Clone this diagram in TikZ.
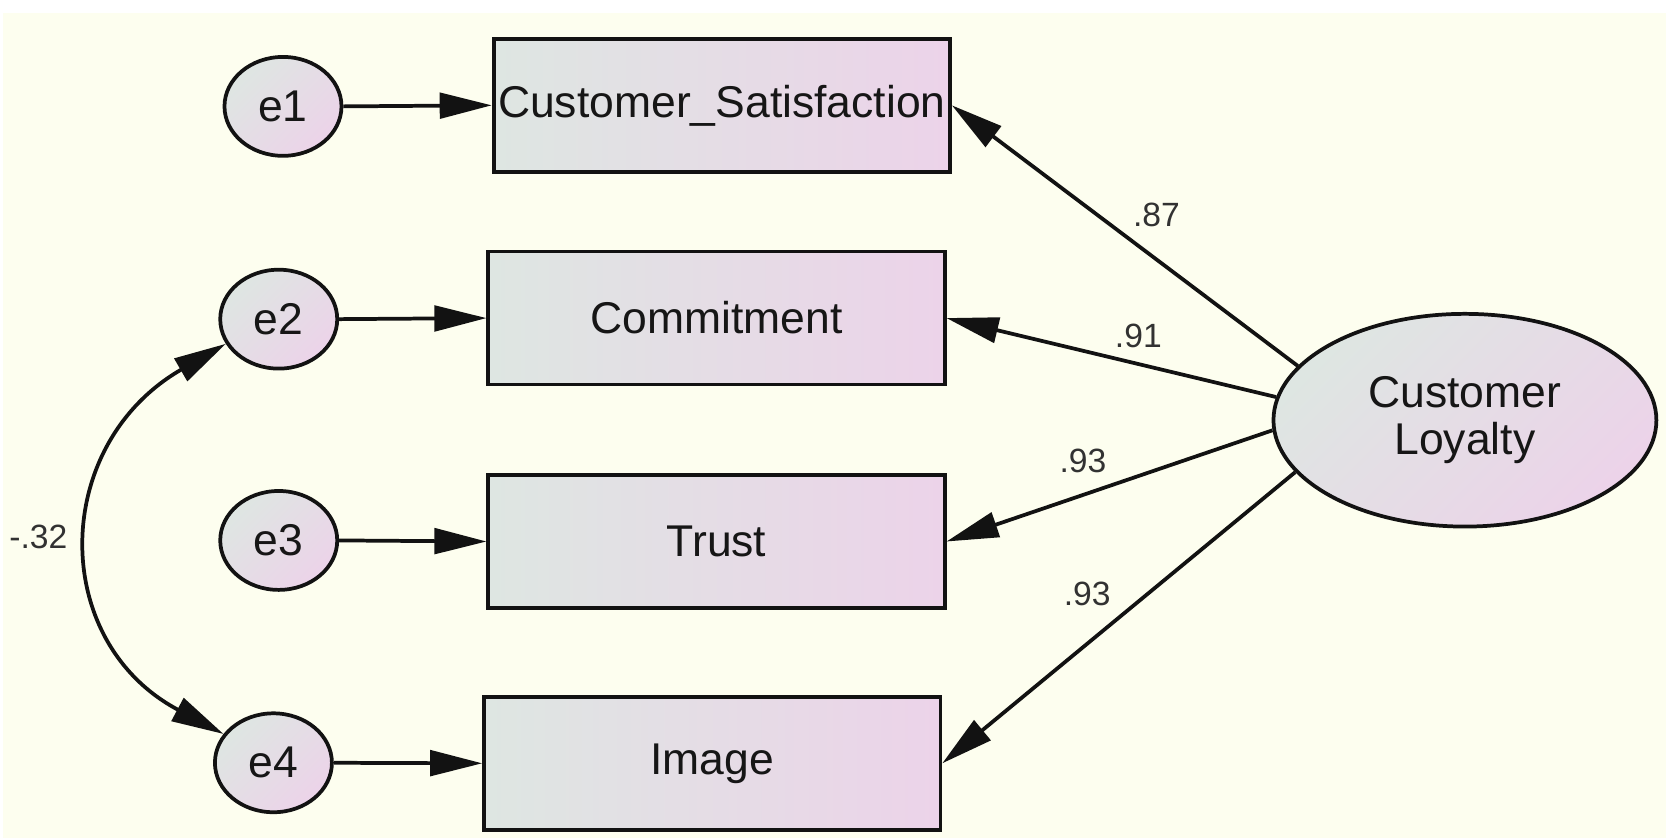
\documentclass[tikz,border=0pt]{standalone}
\usepackage{fontspec}
\setmainfont{Liberation Sans}
\usetikzlibrary{arrows.meta,shapes.geometric}
\definecolor{bgcream}{RGB}{253,254,239}
\definecolor{boxleft}{RGB}{222,230,226}
\definecolor{boxright}{RGB}{236,211,233}
\definecolor{linecol}{RGB}{18,18,18}
\definecolor{labcol}{RGB}{50,50,50}
\definecolor{txtcol}{RGB}{22,22,22}
\begin{document}
\begin{tikzpicture}[x=0.02cm,y=0.02cm,
  obs/.style={draw=linecol, line width=2pt, rectangle, minimum width=8.58cm, minimum height=2.5cm, inner sep=0pt,
    left color=boxleft, right color=boxright, text=txtcol, font=\fontsize{23.8}{26}\selectfont},
  err/.style={draw=linecol, line width=2pt, ellipse, minimum width=2.2cm, minimum height=1.86cm, inner sep=0pt,
    top color=boxleft, bottom color=boxright, shading angle=45, text=txtcol, font=\fontsize{23.8}{26}\selectfont},
  lat/.style={draw=linecol, line width=2pt, ellipse, minimum width=7.2cm, minimum height=4cm, inner sep=0pt,
    top color=boxleft, bottom color=boxright, shading angle=45, align=center, text=txtcol, font=\fontsize{23.8}{25}\selectfont},
  arr/.style={-{Triangle[length=0.98cm,width=0.48cm]}, line width=2pt, draw=linecol},
  darr/.style={{Triangle[length=0.98cm,width=0.48cm]}-{Triangle[length=0.98cm,width=0.48cm]}, line width=2pt, draw=linecol},
  lab/.style={font=\fontsize{18}{20}\selectfont, text=labcol, inner sep=0pt}
]
\useasboundingbox (0,0) rectangle (1566,788);
\fill[bgcream] (3,0) rectangle (1566,776);

% observed variables
\node[obs] (b1) at (678.5,689) {Customer\_Satisfaction};
\node[obs] (b2) at (673.5,489) {Commitment};
\node[obs] (b3) at (673.5,279) {Trust};
\node[obs] (b4) at (669.5,70.5) {Image};

% error terms
\node[err] (e1) at (266,688) {e1};
\node[err] (e2) at (262,488) {e2};
\node[err] (e3) at (262,280) {e3};
\node[err] (e4) at (257,71) {e4};

% latent
\node[lat] (cl) at (1377,393) {Customer\\Loyalty};

% error arrows
\draw[arr] (e1.east) -- (b1.west);
\draw[arr] (e2.east) -- (b2.west);
\draw[arr] (e3.east) -- (b3.west);
\draw[arr] (e4.east) -- (b4.west);

% loadings
\draw[arr] (cl.162) -- (b1.east);
\draw[arr] (cl.173) -- (b2.east);
\draw[arr] (cl.183.5) -- (b3.east);
\draw[arr] (cl.197) -- (b4.east);

% covariance
\draw[darr] (e2.205) .. controls +(210:190) and +(152:186) .. (e4.150);

% labels
\node[lab] (l1) at (1087,586) {.87};
\node[lab] (l2) at (1070,472) {.91};
\node[lab] (l3) at (1018,355) {.93};
\node[lab] (l4) at (1022,230) {.93};
\node[lab] (l5) at (36,283) {-.32};
\end{tikzpicture}
\end{document}
